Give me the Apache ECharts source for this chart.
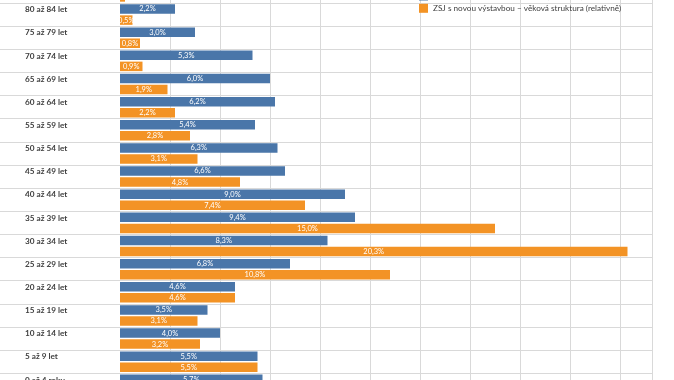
<!DOCTYPE html>
<html>
<head>
<meta charset="utf-8">
<style>
html,body{margin:0;padding:0;background:#fff;overflow:hidden;width:674px;height:380px;}
#chart{position:absolute;left:0;top:-30px;width:674px;height:440px;}
</style>
<script src="https://cdn.jsdelivr.net/npm/echarts@6/dist/echarts.min.js"></script>
</head>
<body>
<div id="chart"></div>
<script>
const categories = ['85 a více let','80 až 84 let','75 až 79 let','70 až 74 let','65 až 69 let','60 až 64 let','55 až 59 let','50 až 54 let','45 až 49 let','40 až 44 let','35 až 39 let','30 až 34 let','25 až 29 let','20 až 24 let','15 až 19 let','10 až 14 let','5 až 9 let','0 až 4 roky'];
const seriesNames = ['Hl. m. Praha – věková struktura (relativně)','ZSJ s novou výstavbou – věková struktura (relativně)'];
const blueValues = [1.2, 2.2, 3.0, 5.3, 6.0, 6.2, 5.4, 6.3, 6.6, 9.0, 9.4, 8.3, 6.8, 4.6, 3.5, 4.0, 5.5, 5.7];
const orangeValues = [0.2, 0.5, 0.8, 0.9, 1.9, 2.2, 2.8, 3.1, 4.8, 7.4, 15.0, 20.3, 10.8, 4.6, 3.1, 3.2, 5.5, 6.4];

const font = 'Lato';
const fmt = p => p.value.toFixed(1).replace('.', ',') + '%';
const chart = echarts.init(document.getElementById('chart'), null, {renderer:'canvas'});
chart.setOption({
  animation: false,
  textStyle: {fontFamily: font},
  legend: {
    orient: 'vertical', left: 414, top: 16.5,
    itemWidth: 9, itemHeight: 9, itemGap: 3.3,
    icon: 'rect',
    textStyle: {fontSize: 8.2, color: '#404040', lineHeight: 9, fontFamily: font},
    data: seriesNames
  },
  grid: {left: 120, right: 22, top: 9.86, bottom: 13.55, containLabel: false},
  xAxis: {
    type: 'value', min: 0, max: 21.28, interval: 2,
    axisLabel: {show: false}, axisLine: {show: false}, axisTick: {show: false},
    splitLine: {show: true, showMinLine: false, lineStyle: {color: '#d9d9d9', width: 1}}
  },
  yAxis: {
    type: 'category', inverse: true, data: categories,
    axisLine: {show: false},
    axisTick: {show: true, length: 120, lineStyle: {color: '#d9d9d9', width: 1}},
    splitLine: {show: true, lineStyle: {color: '#d9d9d9', width: 1}},
    axisLabel: {align: 'left', margin: 95, fontSize: 8.2, fontWeight: 'bold', color: '#404040', verticalAlign: 'bottom', lineHeight: 10, fontFamily: font}
  },
  series: [
    {name: seriesNames[0], type: 'bar', data: blueValues, barWidth: 9.5, barGap: '16%',
     itemStyle: {color: '#4a76a9'},
     label: {show: true, position: 'inside', color: '#fff', fontSize: 7.5, formatter: fmt, fontFamily: font}},
    {name: seriesNames[1], type: 'bar', data: orangeValues, barWidth: 9.5, barGap: '16%',
     itemStyle: {color: '#f39325'},
     label: {show: true, position: 'inside', color: '#fff', fontSize: 7.5, formatter: fmt, fontFamily: font}}
  ]
});
</script>
</body>
</html>
